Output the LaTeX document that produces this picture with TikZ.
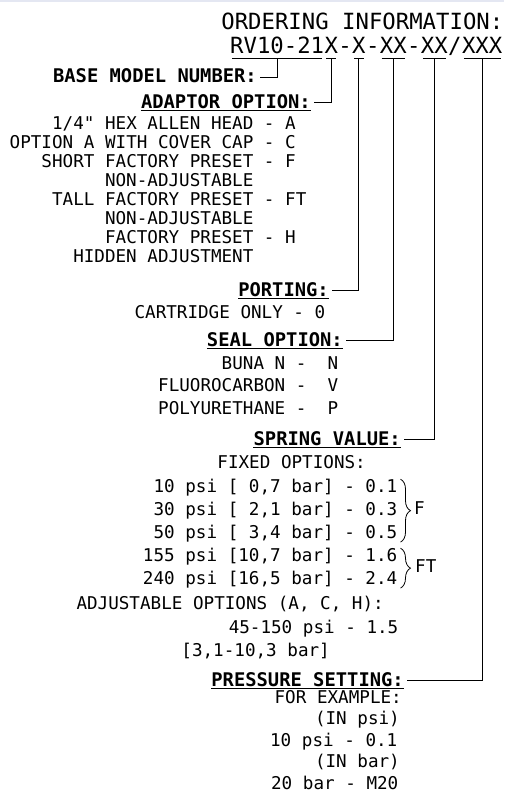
\documentclass[tikz,border=0pt]{standalone}
\usepackage{fontspec}
\usetikzlibrary{positioning,decorations.pathreplacing}
\newfontfamily\draftfont[Ligatures=TeXOff]{DejaVu Sans Mono}
\definecolor{topgrey}{RGB}{228,231,242}
\newcommand\colorLine{black}
\newcommand\colorTopband{topgrey}
\newcommand\titleSize{\fontsize{22.3}{24}\selectfont}
\newcommand\headSize{\fontsize{18.8}{20}\selectfont}
\newcommand\bodySize{\fontsize{17.6}{19}\selectfont}
\newcommand\connGap{3pt}
\tikzset{
	code/.style={font=\draftfont\titleSize, inner sep=0pt, text depth=5pt},
	head/.style={font=\draftfont\bfseries\headSize, inner sep=0pt, text height=13.7pt, text depth=2.5pt, anchor=base east},
	opt/.style={font=\draftfont\bodySize, inner sep=0pt, text height=13pt, text depth=3.5pt, anchor=base east},
	conn/.style={color=\colorLine, line width=0.9pt},
	uline/.style={color=\colorLine, line width=1pt},
	brace/.style={color=\colorLine, line width=0.8pt, decorate, decoration={brace, amplitude=10pt}}
}

\begin{document}
\begin{tikzpicture}[x=1pt,y=-1pt]
	\useasboundingbox (0,0) rectangle (504,809);
	\fill[\colorTopband] (0,0) rectangle (504,1.5);

	\node[code, anchor=base east] (title) at (503.5,29.1) {ORDERING INFORMATION:};
	\node[code, anchor=base west] (cBase) at (230,53) {RV10-21};
	\node[code, base right=0pt of cBase] (cAdp) {X};
	\node[code, base right=0pt of cAdp] (dashA) {-};
	\node[code, base right=0pt of dashA] (cPort) {X};
	\node[code, base right=0pt of cPort] (dashB) {-};
	\node[code, base right=0pt of dashB] (cSeal) {XX};
	\node[code, base right=0pt of cSeal] (dashC) {-};
	\node[code, base right=0pt of dashC] (cSpring) {XX};
	\node[code, base right=0pt of cSpring] (slash) {/};
	\node[code, base right=0pt of slash] (cPress) {XXX};
	\foreach \s in {cBase,cAdp,cPort,cSeal,cSpring,cPress}{
		\draw[uline, shorten <=2pt, shorten >=2pt] (\s.south west) to (\s.south east);
	}

	\node[head] (hBase) at (257,82.9) {BASE MODEL NUMBER:};
	\node[head] (hAdp) at (311,108) {ADAPTOR OPTION:};
	\node[head] (hPort) at (329,296) {PORTING:};
	\node[head] (hSeal) at (343,346) {SEAL OPTION:};
	\node[head] (hSpring) at (401,445) {SPRING VALUE:};
	\node[head] (hPress) at (404,686) {PRESSURE SETTING:};
	\foreach \h in {hAdp,hPort,hSeal,hSpring,hPress}{
		\draw[uline, line width=1.2pt] (\h.south west) to (\h.south east);
	}
	\foreach \c/\h in {cBase/hBase,cAdp/hAdp,cPort/hPort,cSeal/hSeal,cSpring/hSpring,cPress/hPress}{
		\draw[conn] (\c.south) |- ([xshift=\connGap]\h.east);
	}

	\foreach \txt/\xr [count=\i from 0] in {
		{1/4" HEX ALLEN HEAD - A}/296,
		{OPTION A WITH COVER CAP - C}/296,
		{SHORT FACTORY PRESET - F}/296,
		{NON-ADJUSTABLE}/253.6,
		{TALL FACTORY PRESET - FT}/306.6,
		{NON-ADJUSTABLE}/253.6,
		{FACTORY PRESET - H}/296,
		{HIDDEN ADJUSTMENT}/253.6}{
		\node[opt] (adp\i) at (\xr, 129.4+19*\i) {\txt};
	}

	\node[opt] (port0) at (325.5,318.4) {CARTRIDGE ONLY - 0};

	\foreach \txt [count=\i from 0] in {{BUNA N -\ \ N},{FLUOROCARBON -\ \ V},{POLYURETHANE -\ \ P}}{
		\node[opt] (seal\i) at (338.5, 369.4+22.5*\i) {\txt};
	}

	\node[opt] (fixed) at (366,468.4) {FIXED OPTIONS:};
	\foreach \txt [count=\i] in {
		{10 psi [ 0,7 bar] - 0.1},
		{30 psi [ 2,1 bar] - 0.3},
		{50 psi [ 3,4 bar] - 0.5},
		{155 psi [10,7 bar] - 1.6},
		{240 psi [16,5 bar] - 2.4}}{
		\node[opt] (spr\i) at (397.5, 469.4+23*\i) {\txt};
	}
	\draw[brace] ([xshift=3pt]spr1.north east) -- ([xshift=3pt]spr3.south east);
	\draw[brace] ([xshift=3pt]spr4.north east) -- ([xshift=3pt]spr5.south east);
	\node[opt, anchor=west] (labF) at (414,510) {F};
	\node[opt, anchor=west] (labFT) at (415,568) {FT};

	\node[opt] (adj0) at (384,609.4) {ADJUSTABLE OPTIONS (A, C, H):};
	\node[opt] (adj1) at (398.5,633.4) {45-150 psi - 1.5};
	\node[opt] (adj2) at (330,656.4) {[3,1-10,3 bar]};

	\foreach \txt/\xr [count=\i from 0] in {
		{FOR EXAMPLE:}/402,
		{(IN psi)}/400,
		{10 psi - 0.1}/397.5,
		{(IN bar)}/400,
		{20 bar - M20}/398.5}{
		\node[opt] (ex\i) at (\xr, 703.4+21.5*\i) {\txt};
	}
\end{tikzpicture}
\end{document}
